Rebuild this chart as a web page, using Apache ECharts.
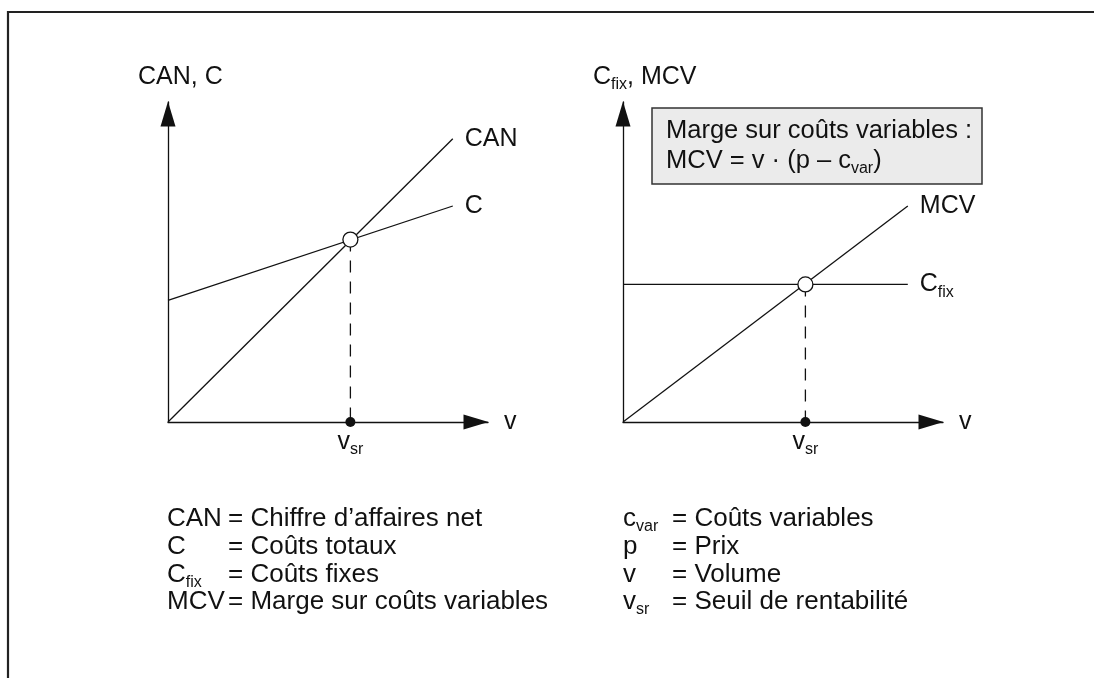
<!DOCTYPE html>
<html>
<head>
<meta charset="utf-8">
<script src="https://cdn.jsdelivr.net/npm/echarts@6/dist/echarts.min.js"></script>
<style>
html,body{margin:0;padding:0;background:#fff;}
#chart{width:1094px;height:678px;}
</style>
</head>
<body>
<div id="chart"></div>
<script>
// ---- data (units: 0..100 on both axes of each panel) ----
const leftCAN = [[0, 0], [89, 88.5]];
const leftC = [[0, 38], [89, 67.5]];
const leftBreakEven = [[57, 57]];
const rightCfix = [[0, 43], [89, 43]];
const rightMCV = [[0, 0], [89, 67.5]];
const rightBreakEven = [[57, 43]];
const breakEvenVolume = 57;

const leftLegend = [
  ['CAN', null, 'Chiffre d’affaires net'],
  ['C', null, 'Coûts totaux'],
  ['C', 'fix', 'Coûts fixes'],
  ['MCV', null, 'Marge sur coûts variables']
];
const rightLegend = [
  ['c', 'var', 'Coûts variables'],
  ['p', null, 'Prix'],
  ['v', null, 'Volume'],
  ['v', 'sr', 'Seuil de rentabilité']
];

const F = "'Liberation Sans', Arial, sans-serif";
const FS = 25;
const INK = '#111111';
function makeRich(size) {
  return {
    m: {fontSize: size, fontFamily: F, color: INK, fill: INK, verticalAlign: 'middle'},
    s: {fontSize: 16, fontFamily: F, color: INK, fill: INK, padding: [16, 0, 0, 0], verticalAlign: 'middle'}
  };
}
const rich = makeRich(FS);
const richL = makeRich(26);
const richB = makeRich(25.5);
function tx(main, sub) {
  return sub ? '{m|' + main + '}{s|' + sub + '}' : '{m|' + main + '}';
}

const chart = echarts.init(document.getElementById('chart'), null, {renderer: 'canvas'});

const axisLine = {
  show: true,
  symbol: ['none', 'triangle'],
  symbolSize: [15, 25],
  symbolOffset: [0, -12],
  lineStyle: {color: INK, width: 1.3}
};
const grids = [
  {left: 168, top: 102, width: 320, height: 320},
  {left: 623, top: 102, width: 320, height: 320}
];
function xA(i) {
  return {type: 'value', gridIndex: i, min: 0, max: 100,
    axisLine: axisLine, axisTick: {show: false}, axisLabel: {show: false}, splitLine: {show: false},
    name: 'v', nameLocation: 'end', nameGap: 16,
    nameTextStyle: {fontSize: FS, fontFamily: F, color: INK, verticalAlign: 'middle'}};
}
function yA(i) {
  return {type: 'value', gridIndex: i, min: 0, max: 100,
    axisLine: axisLine, axisTick: {show: false}, axisLabel: {show: false}, splitLine: {show: false}};
}
function lineSeries(i, name, data, labelText) {
  return {type: 'line', xAxisIndex: i, yAxisIndex: i, name: name, data: data,
    symbol: 'none', silent: true, animation: false, z: 3,
    lineStyle: {color: INK, width: 1.3},
    endLabel: {show: true, distance: 12, formatter: labelText, rich: rich, color: INK}};
}
function dashSeries(i, pt) {
  return {type: 'line', xAxisIndex: i, yAxisIndex: i, data: [pt, [pt[0], 0]],
    symbol: 'none', silent: true, animation: false, z: 2,
    lineStyle: {color: INK, width: 1.3, type: [12, 9]}};
}
function circleSeries(i, data) {
  return {type: 'scatter', xAxisIndex: i, yAxisIndex: i, data: data, symbol: 'circle', symbolSize: 15,
    silent: true, animation: false, z: 5,
    itemStyle: {color: '#fff', borderColor: INK, borderWidth: 1.3, opacity: 1}};
}
function dotSeries(i) {
  return {type: 'scatter', xAxisIndex: i, yAxisIndex: i, data: [[breakEvenVolume, 0]], symbol: 'circle', symbolSize: 10,
    silent: true, animation: false, z: 5, clip: false,
    itemStyle: {color: INK, opacity: 1},
    label: {show: true, position: 'bottom', distance: -1, formatter: tx('v', 'sr'), rich: rich, opacity: 1}};
}

function gText(x, y, text, r) {
  const rr = r || rich;
  return {type: 'text', x: x, y: y, silent: true,
    style: {text: text, rich: rr, fontSize: rr.m.fontSize, fontFamily: F, fill: INK, align: 'left', verticalAlign: 'middle'}};
}

const graphics = [
  {type: 'polyline', silent: true, shape: {points: [[8, 700], [8, 12], [1100, 12]]}, style: {stroke: '#222', lineWidth: 2.2, fill: null}},
  {type: 'rect', silent: true, shape: {x: 652, y: 108, width: 330, height: 76}, style: {fill: '#ebebeb', stroke: '#333', lineWidth: 1.5}},
  gText(666, 131, tx('Marge sur coûts variables :'), richB),
  gText(666, 161, '{m|MCV = v · (p – c}{s|var}{m|)}', richB),
  gText(138, 77, tx('CAN, C')),
  gText(593, 77, '{m|C}{s|fix}{m|, MCV}')
];
const rowY = [519, 547, 575, 602];
leftLegend.forEach(function (r, k) {
  graphics.push(gText(167, rowY[k], tx(r[0], r[1]), richL));
  graphics.push(gText(228, rowY[k], tx('= ' + r[2]), richL));
});
rightLegend.forEach(function (r, k) {
  graphics.push(gText(623, rowY[k], tx(r[0], r[1]), richL));
  graphics.push(gText(672, rowY[k], tx('= ' + r[2]), richL));
});

chart.setOption({
  animation: false,
  backgroundColor: '#fff',
  grid: grids,
  xAxis: [xA(0), xA(1)],
  yAxis: [yA(0), yA(1)],
  series: [
    lineSeries(0, 'CAN', leftCAN, tx('CAN')),
    lineSeries(0, 'C', leftC, tx('C')),
    dashSeries(0, leftBreakEven[0]),
    circleSeries(0, leftBreakEven),
    dotSeries(0),
    lineSeries(1, 'MCV', rightMCV, tx('MCV')),
    lineSeries(1, 'Cfix', rightCfix, tx('C', 'fix')),
    dashSeries(1, rightBreakEven[0]),
    circleSeries(1, rightBreakEven),
    dotSeries(1)
  ],
  graphic: graphics
});
</script>
</body>
</html>
